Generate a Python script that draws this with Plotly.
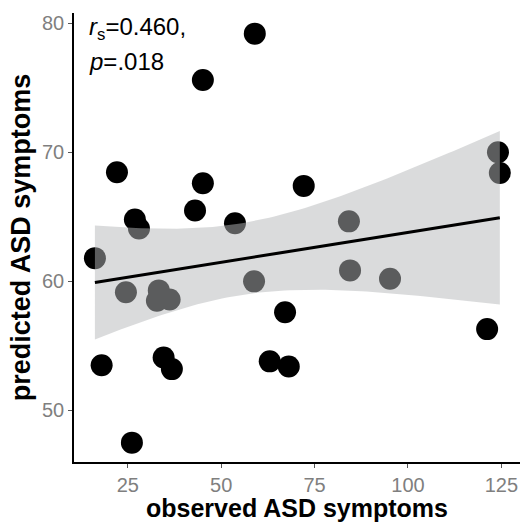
import numpy as np
import plotly.graph_objects as go

# observed vs predicted ASD symptoms
observed = [16.2, 18.0, 22.1, 24.5, 26.9, 28.0, 26.1, 33.3, 32.8, 36.2, 34.6, 36.8,
            43.0, 45.1, 45.1, 53.7, 59.0, 58.8, 63.0, 67.1, 68.1, 72.1, 84.2, 84.5,
            95.2, 121.2, 124.1, 124.6]
predicted = [61.8, 53.5, 68.45, 59.15, 64.8, 64.1, 47.5, 59.3, 58.5, 58.6, 54.1, 53.2,
             65.5, 67.6, 75.6, 64.5, 79.2, 60.0, 53.8, 57.6, 53.4, 67.4, 64.65, 60.85,
             60.2, 56.3, 70.0, 68.4]
x_ticks = [25, 50, 75, 100, 125]
y_ticks = [50, 60, 70, 80]
annotation_lines = ["<i>r</i><sub>s</sub>=0.460,", "<i>p</i>=.018"]
x_title = "observed ASD symptoms"
y_title = "predicted ASD symptoms"

# linear fit with 95% confidence band (as geom_smooth(method='lm'))
x = np.array(observed)
y = np.array(predicted)
n = len(x)
b1, b0 = np.polyfit(x, y, 1)
resid = y - (b0 + b1 * x)
s = np.sqrt(np.sum(resid ** 2) / (n - 2))
xg = np.linspace(x.min(), x.max(), 80)
yg = b0 + b1 * xg
se = s * np.sqrt(1 / n + (xg - x.mean()) ** 2 / np.sum((x - x.mean()) ** 2))
tq = 2.0555  # t quantile, df = 26
lo = yg - tq * se
hi = yg + tq * se

fig = go.Figure()
fig.add_trace(go.Scatter(x=observed, y=predicted, mode="markers",
                         marker=dict(size=22, color="black", line=dict(width=0)),
                         showlegend=False, hoverinfo="skip"))
fig.add_trace(go.Scatter(x=np.concatenate([xg, xg[::-1]]), y=np.concatenate([hi, lo[::-1]]),
                         mode="lines", fill="toself", fillcolor="rgba(182,183,186,0.5)",
                         line=dict(width=0), showlegend=False, hoverinfo="skip"))
fig.add_trace(go.Scatter(x=xg, y=yg, mode="lines", line=dict(color="black", width=3),
                         showlegend=False, hoverinfo="skip"))

axis_common = dict(showgrid=False, zeroline=False, showline=True, linecolor="black",
                   linewidth=1.5, ticks="outside", ticklen=4, tickwidth=1.2,
                   tickcolor="#555555",
                   tickfont=dict(family="Liberation Sans, Arial", size=20, color="#7f7f7f"))
fig.update_xaxes(range=[10.6, 130.0], tickvals=x_ticks,
                 title=dict(text="<b>" + x_title + "</b>", standoff=0,
                            font=dict(family="Liberation Sans, Arial", size=25, color="black")),
                 **axis_common)
fig.update_yaxes(range=[46.0, 80.8], tickvals=y_ticks,
                 title=dict(text="<b>" + y_title + "</b>", standoff=4,
                            font=dict(family="Liberation Sans, Arial", size=27, color="black")),
                 **axis_common)
for txt, yy in zip(annotation_lines, [0.966, 0.893]):
    fig.add_annotation(text=txt, xref="paper", yref="paper", x=0.03, y=yy,
                       xanchor="left", yanchor="middle", align="left", showarrow=False,
                       font=dict(family="Liberation Sans, Arial", size=24, color="black"))
fig.update_layout(width=523, height=522, margin=dict(l=74, r=3, t=13, b=60),
                  plot_bgcolor="white", paper_bgcolor="white")
fig.write_html("out.html")
